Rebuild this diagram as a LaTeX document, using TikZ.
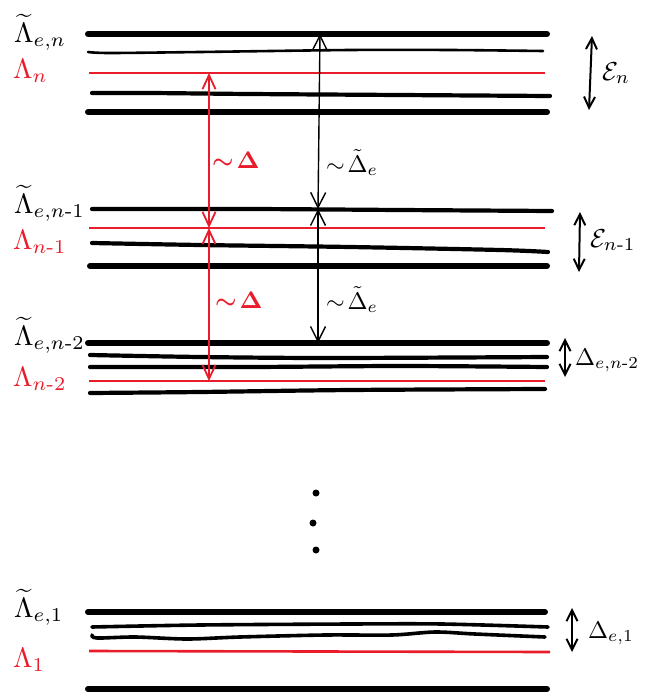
\documentclass[tikz,border=0pt]{standalone}
\usepackage{amsmath}
\usetikzlibrary{arrows.meta}
\definecolor{hred}{RGB}{232,28,42}
\newcommand{\lamtxt}[1]{\scalebox{2.8}{$#1$}}
\newcommand{\sidetxt}[1]{\scalebox{2.6}{$#1$}}
\newcommand{\midtxt}[1]{\scalebox{2.4}{$#1$}}
\newcommand{\hy}{\text{-}}
\begin{document}
\begin{tikzpicture}[x=1pt,y=-1pt,
  thickline/.style={line width=6pt,line cap=round},
  midline/.style={line width=4.2pt,line cap=round},
  thinline/.style={line width=2.6pt,line cap=round},
  redline/.style={hred,line width=2.6pt},
  bigarrow/.style={line width=1.4pt,{Straight Barb[length=15pt,width=15pt]}-{Straight Barb[length=15pt,width=15pt]}},
  redarrow/.style={hred,line width=1.8pt,{Straight Barb[length=14pt,width=13pt]}-{Straight Barb[length=14pt,width=13pt]}},
  sidearrow/.style={line width=2pt,{Straight Barb[length=11pt,width=11pt]}-{Straight Barb[length=11pt,width=11pt]}},
  lbl/.style={anchor=base west,inner sep=0pt},
  dot/.style={circle,fill=black,inner sep=0pt,minimum size=7pt}]
\useasboundingbox (0,0) rectangle (650,699);

% ---------- group n ----------
\draw[thickline] (88,34) -- (547,34);
\draw[thinline] plot[smooth] coordinates {(88,52) (110,53) (200,52) (350,50) (450,50) (543,51)};
\draw[redline] (89,73) -- (545,73);
\draw[midline] plot[smooth] coordinates {(92,93) (150,93) (250,94) (400,95) (550,96)};
\draw[thickline] (88,112) -- (547,112);

% ---------- group n-1 ----------
\draw[midline] plot[smooth] coordinates {(92,209) (250,209) (400,210) (552,211)};
\draw[redline] (89,228) -- (545,228);
\draw[midline] plot[smooth] coordinates {(92,243) (200,245) (350,247) (500,250) (548,252)};
\draw[thickline] (90,266) -- (547,266);

% ---------- group n-2 ----------
\draw[thickline] (88,343) -- (547,343);
\draw[midline] plot[smooth] coordinates {(90,355) (200,357) (330,358) (547,357)};
\draw[midline] plot[smooth] coordinates {(90,367) (250,367) (400,366) (547,367)};
\draw[redline] (89,381) -- (545,381);
\draw[midline] plot[smooth] coordinates {(90,393) (200,392) (350,390) (545,389)};

% ---------- group 1 ----------
\draw[thickline] (88,612) -- (545,612);
\draw[line width=3.6pt,line cap=round] plot[smooth] coordinates {(92,627) (200,625) (350,624) (442,624) (548,627)};
\draw[line width=3.6pt,line cap=round] plot[smooth] coordinates {(92,635) (97,638) (135,637) (187,639) (240,637) (325,635) (392,635) (435,632) (475,634) (545,637)};
\draw[redline] (89,651) -- (550,652);
\draw[thickline] (88,689) -- (547,689);

% ---------- dots ----------
\node[dot] (d1) at (316,493) {};
\node[dot] (d2) at (313,523) {};
\node[dot] (d3) at (316,550) {};

% ---------- arrow end points ----------
\coordinate (rA) at (209,73);
\coordinate (rB) at (209,228);
\coordinate (rC) at (209,381);
\coordinate (kA) at (320,34);
\coordinate (kB) at (318,209);
\coordinate (kC) at (318,343);
\coordinate (eA1) at (592,36);  \coordinate (eA2) at (589,110);
\coordinate (eB1) at (580,212); \coordinate (eB2) at (579,272);
\coordinate (eC1) at (565,338); \coordinate (eC2) at (565,377);
\coordinate (eD1) at (572,608); \coordinate (eD2) at (572,652);

\draw[redarrow] (rA) -- (rB);
\draw[redarrow] (rB) -- (rC);
\draw[bigarrow] (kA) -- (kB);
\draw[bigarrow] (kB) -- (kC);
\draw[sidearrow] (eA1) -- (eA2);
\draw[sidearrow] (eB1) -- (eB2);
\draw[sidearrow] (eC1) -- (eC2);
\draw[sidearrow] (eD1) -- (eD2);

% ---------- left labels ----------
\node[lbl] (lt1) at (14,42) {\lamtxt{\widetilde{\Lambda}_{e,n}}};
\node[lbl,hred] (l1) at (13,78) {\lamtxt{\Lambda_n}};
\node[lbl] (lt2) at (14,213) {\lamtxt{\widetilde{\Lambda}_{e,n\hy1}}};
\node[lbl,hred] (l2) at (13,249) {\lamtxt{\Lambda_{n\hy1}}};
\node[lbl] (lt3) at (14,345) {\lamtxt{\widetilde{\Lambda}_{e,n\hy2}}};
\node[lbl,hred] (l3) at (13,386) {\lamtxt{\Lambda_{n\hy2}}};
\node[lbl] (lt4) at (14,617) {\lamtxt{\widetilde{\Lambda}_{e,1}}};
\node[lbl,hred] (l4) at (13,667) {\lamtxt{\Lambda_1}};

% ---------- middle labels ----------
\node[lbl,hred] (m1) at (212,168) {\midtxt{\boldsymbol{\sim\!\Delta}}};
\node[lbl,hred] (m2) at (215,308) {\midtxt{\boldsymbol{\sim\!\Delta}}};
\node[lbl] (m3) at (326,172) {\midtxt{\sim\!\tilde{\Delta}_e}};
\node[lbl] (m4) at (326,309) {\midtxt{\sim\!\tilde{\Delta}_e}};

% ---------- right labels ----------
\node[lbl] (s1) at (602,80) {\sidetxt{\mathcal{E}_n}};
\node[lbl] (s2) at (590,247) {\sidetxt{\mathcal{E}_{n\hy1}}};
\node[lbl] (s3) at (575,365) {\midtxt{\Delta_{e,n\hy2}}};
\node[lbl] (s4) at (588,638) {\midtxt{\Delta_{e,1}}};
\end{tikzpicture}
\end{document}
